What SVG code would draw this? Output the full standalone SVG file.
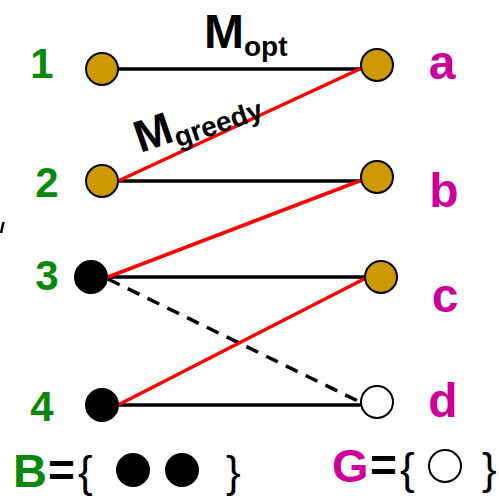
<svg xmlns="http://www.w3.org/2000/svg" width="499" height="496" viewBox="0 0 499 496">
<style>
text{font-family:"Liberation Sans",Arial,sans-serif;font-weight:bold}
.g{fill:#0A880A;font-size:42px}
.m{fill:#CC0099;font-size:48px}
.k{fill:#000}
.br{font-weight:normal;font-size:44px}
.eq{font-size:46px}
.blk{stroke:#000;stroke-width:3.5;fill:none}
.red{stroke:#FF0000;stroke-width:3.5;fill:none}
.dash{stroke:#000;stroke-width:3.5;fill:none;stroke-dasharray:13 9}
.gold{fill:#CC9900;stroke:#000;stroke-width:2}
.full{fill:#000;stroke:#000;stroke-width:2}
.empty{fill:#fff;stroke:#000;stroke-width:2}
</style>
<rect width="499" height="496" fill="#fff"/>
<g id="connectors">
<line class="blk" x1="118" y1="69" x2="362" y2="69"/>
<line class="blk" x1="118" y1="181" x2="362" y2="181"/>
<line class="blk" x1="108" y1="277" x2="365" y2="277"/>
<line class="blk" x1="118" y1="405" x2="362" y2="405"/>
<line class="dash" x1="108" y1="279" x2="362" y2="403"/>
<line class="red" x1="118" y1="181" x2="362" y2="68"/>
<line class="red" x1="108" y1="277" x2="362" y2="180"/>
<line class="red" x1="118" y1="405" x2="366" y2="278"/>
</g>
<g id="node-1"><circle class="gold" cx="102" cy="69" r="16"/><text class="g" x="42" y="78" text-anchor="middle">1</text></g>
<g id="node-2"><circle class="gold" cx="102" cy="181" r="16"/><text class="g" x="47" y="197" text-anchor="middle">2</text></g>
<g id="node-3"><circle class="full" cx="91" cy="277" r="16"/><text class="g" x="47" y="290" text-anchor="middle">3</text></g>
<g id="node-4"><circle class="full" cx="102" cy="405" r="16"/><text class="g" x="42" y="421" text-anchor="middle">4</text></g>
<g id="node-a"><circle class="gold" cx="377" cy="65" r="16"/><text class="m" x="442" y="79" text-anchor="middle">a</text></g>
<g id="node-b"><circle class="gold" cx="377" cy="177" r="16"/><text class="m" x="444" y="207" text-anchor="middle">b</text></g>
<g id="node-c"><circle class="gold" cx="381" cy="277" r="16"/><text class="m" x="445" y="312" text-anchor="middle">c</text></g>
<g id="node-d"><circle class="empty" cx="377" cy="402" r="16"/><text class="m" x="443" y="417" text-anchor="middle">d</text></g>
<g id="label-mopt"><text class="k" x="204" y="48" font-size="48">M<tspan font-size="28" dy="8">opt</tspan></text></g>
<g id="label-mgreedy"><text class="k" transform="translate(143,152) rotate(-19)" x="-3" y="0" font-size="45">M<tspan font-size="28" dy="7">greedy</tspan></text></g>
<g id="legend-B">
<text class="g" x="13" y="487" style="font-size:47px">B</text>
<text class="k eq" x="48" y="486">=</text>
<text class="k br" x="78" y="487">{</text>
<circle class="full" cx="133" cy="470" r="16"/>
<circle class="full" cx="182" cy="470" r="16"/>
<text class="k br" x="226" y="487">}</text>
</g>
<g id="legend-G">
<text class="m" x="332" y="482" style="font-size:47px">G</text>
<text class="k eq" x="370" y="481">=</text>
<text class="k br" x="400" y="484">{</text>
<circle class="empty" cx="445" cy="466" r="16"/>
<text class="k br" x="482" y="484">}</text>
</g>
<line x1="1" y1="233" x2="3.5" y2="222" stroke="#000" stroke-width="2.5"/>
</svg>
